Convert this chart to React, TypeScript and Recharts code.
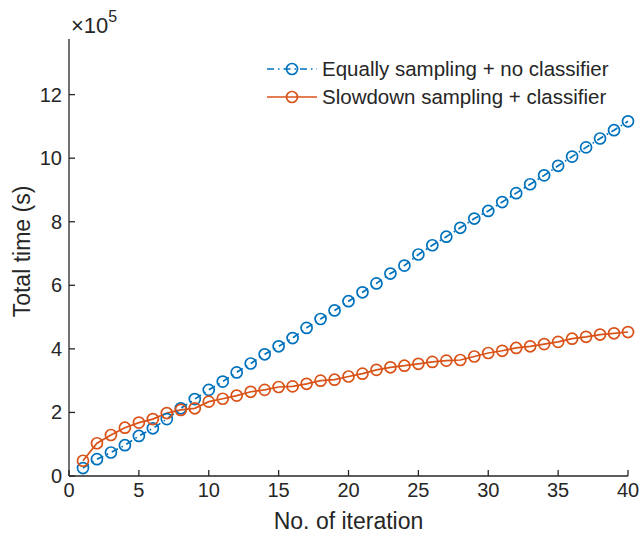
import React from 'react';
import { LineChart, Line, XAxis, YAxis } from 'recharts';

const iterations = [1, 2, 3, 4, 5, 6, 7, 8, 9, 10, 11, 12, 13, 14, 15, 16, 17, 18, 19, 20, 21, 22, 23, 24, 25, 26, 27, 28, 29, 30, 31, 32, 33, 34, 35, 36, 37, 38, 39, 40];

// Total time in units of 1e5 s
const equallyNoClassifier = [0.25, 0.53, 0.74, 0.97, 1.26, 1.5, 1.79, 2.13, 2.42, 2.71, 2.97, 3.26, 3.54, 3.83, 4.08, 4.34, 4.66, 4.94, 5.21, 5.5, 5.78, 6.06, 6.37, 6.62, 6.97, 7.26, 7.53, 7.81, 8.1, 8.34, 8.62, 8.9, 9.18, 9.46, 9.76, 10.05, 10.34, 10.62, 10.88, 11.16];
const slowdownClassifier = [0.48, 1.03, 1.29, 1.52, 1.68, 1.79, 1.98, 2.08, 2.13, 2.34, 2.43, 2.53, 2.65, 2.71, 2.8, 2.82, 2.9, 3.0, 3.03, 3.13, 3.22, 3.34, 3.42, 3.47, 3.53, 3.59, 3.63, 3.65, 3.76, 3.87, 3.94, 4.03, 4.08, 4.15, 4.22, 4.32, 4.38, 4.45, 4.49, 4.53];

const xTicks = [0, 5, 10, 15, 20, 25, 30, 35, 40];
const yTicks = [0, 2, 4, 6, 8, 10, 12];
const seriesNames = ['Equally sampling + no classifier', 'Slowdown sampling + classifier'];

const data = iterations.map((it, i) => ({
  x: it,
  a: equallyNoClassifier[i],
  b: slowdownClassifier[i],
}));

const BLUE = '#0072BD';
const ORANGE = '#D95319';
const AX = '#262626';
const FONT = '"Liberation Sans", Arial, Helvetica, sans-serif';
const FS_TICK = 20;
const FS_LABEL = 23;
const FS_LEG = 20.5;
const DASHDOT = '7 4 1.5 4';
const LW = 1.7;
const MR = 5.5;

const BottomTick = (props: any) => {
  const { x, y, payload } = props;
  return (
    <g>
      <line x1={x} x2={x} y1={y} y2={y - 6} stroke={AX} strokeWidth={1.3} />
      <text x={x} y={y + 21} textAnchor="middle" fontSize={FS_TICK} fontFamily={FONT} fill={AX}>
        {payload.value}
      </text>
    </g>
  );
};

const TopTick = (props: any) => {
  const { x, y } = props;
  return <line x1={x} x2={x} y1={y} y2={y + 6} stroke={AX} strokeWidth={1.3} />;
};

const LeftTick = (props: any) => {
  const { x, y, payload } = props;
  return (
    <g>
      <line x1={x} x2={x + 6} y1={y} y2={y} stroke={AX} strokeWidth={1.3} />
      <text x={x - 7} y={y + 7} textAnchor="end" fontSize={FS_TICK} fontFamily={FONT} fill={AX}>
        {payload.value}
      </text>
    </g>
  );
};

const RightTick = (props: any) => {
  const { x, y } = props;
  return <line x1={x} x2={x - 6} y1={y} y2={y} stroke={AX} strokeWidth={1.3} />;
};

const LegendBox = () => (
  <svg width={380} height={60} style={{ position: 'absolute', left: 260, top: 55, overflow: 'visible' }}>
    <g>
      <line x1={7} x2={57} y1={14} y2={14} stroke={BLUE} strokeWidth={LW} strokeDasharray={DASHDOT} />
      <circle cx={32} cy={14} r={MR} fill="none" stroke={BLUE} strokeWidth={LW} />
      <text x={62} y={21} fontSize={FS_LEG} fontFamily={FONT} fill={AX}>{seriesNames[0]}</text>
    </g>
    <g>
      <line x1={7} x2={57} y1={42} y2={42} stroke={ORANGE} strokeWidth={LW} />
      <circle cx={32} cy={42} r={MR} fill="none" stroke={ORANGE} strokeWidth={LW} />
      <text x={62} y={49} fontSize={FS_LEG} fontFamily={FONT} fill={AX}>{seriesNames[1]}</text>
    </g>
  </svg>
);

export default function App() {
  return (
    <div style={{ position: 'absolute', left: 0, top: 0, width: 643, height: 537, background: '#fff' }}>
      <LineChart width={643} height={537} data={data} margin={{ top: 39, right: 15, bottom: 0, left: 0 }}>
        <XAxis
          dataKey="x"
          type="number"
          domain={[0, 40]}
          ticks={xTicks}
          height={61}
          tickSize={0}
          tickMargin={0}
          tickLine={false}
          axisLine={{ stroke: AX, strokeWidth: 1.3 }}
          tick={<BottomTick />}
          interval={0}
          label={(p: any) => {
            const vb = p.viewBox;
            return (
              <text x={vb.x + vb.width / 2} y={vb.y + 53} textAnchor="middle" fontSize={FS_LABEL} fontFamily={FONT} fill={AX}>
                No. of iteration
              </text>
            );
          }}
        />
        <XAxis
          xAxisId="top"
          dataKey="x"
          type="number"
          orientation="top"
          domain={[0, 40]}
          ticks={xTicks}
          height={0}
          tickSize={0}
          tickMargin={0}
          tickLine={false}
          axisLine={{ stroke: AX, strokeWidth: 1.3 }}
          tick={<TopTick />}
          interval={0}
        />
        <YAxis
          type="number"
          domain={[0, 13.75]}
          ticks={yTicks}
          width={69}
          tickSize={0}
          tickMargin={0}
          tickLine={false}
          axisLine={{ stroke: AX, strokeWidth: 1.3 }}
          tick={<LeftTick />}
          interval={0}
          allowDataOverflow
          label={(p: any) => {
            const vb = p.viewBox;
            const cx = vb.x + 30;
            const cy = vb.y + vb.height / 2 - 6;
            return (
              <g>
                <text x={cx} y={cy} transform={`rotate(-90 ${cx} ${cy})`} textAnchor="middle" fontSize={FS_LABEL} fontFamily={FONT} fill={AX}>
                  Total time (s)
                </text>
                <text x={vb.x + 71} y={vb.y - 6} fontSize={22} fontFamily={FONT} fill={AX}>
                  <tspan fontWeight={300}>×</tspan>10<tspan dy={-11} fontSize={16}>5</tspan>
                </text>
              </g>
            );
          }}
        />
        <YAxis
          yAxisId="right"
          type="number"
          orientation="right"
          domain={[0, 13.75]}
          ticks={yTicks}
          width={0}
          tickSize={0}
          tickMargin={0}
          tickLine={false}
          axisLine={{ stroke: AX, strokeWidth: 1.3 }}
          tick={<RightTick />}
          interval={0}
          allowDataOverflow
        />
        <Line
          dataKey="a"
          name={seriesNames[0]}
          stroke={BLUE}
          strokeWidth={LW}
          strokeDasharray={DASHDOT}
          dot={{ r: MR, fill: 'none', stroke: BLUE, strokeWidth: LW, strokeDasharray: '' }}
          isAnimationActive={false}
        />
        <Line
          dataKey="b"
          name={seriesNames[1]}
          stroke={ORANGE}
          strokeWidth={LW}
          dot={{ r: MR, fill: 'none', stroke: ORANGE, strokeWidth: LW }}
          isAnimationActive={false}
        />
      </LineChart>
      <LegendBox />
    </div>
  );
}
